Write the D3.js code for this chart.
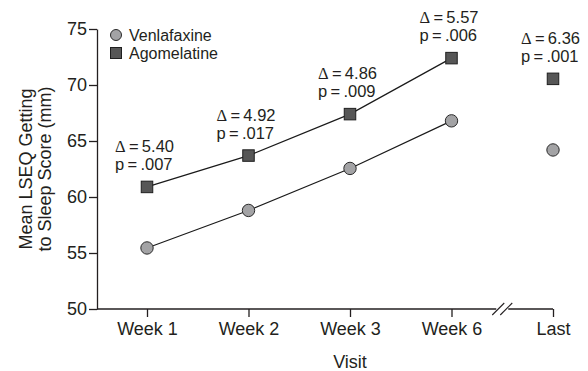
<!DOCTYPE html>
<html>
<head>
<meta charset="utf-8">
<script src="https://cdn.jsdelivr.net/npm/d3@7"></script>
<style>
  body { margin: 0; background: #fff; }
  svg { display: block; font-family: "Liberation Sans", Arial, Helvetica, sans-serif; }
</style>
</head>
<body>
<div id="chart"></div>
<script>
// data
const visits = ['Week 1', 'Week 2', 'Week 3', 'Week 6', 'Last'];
const venlafaxine = [55.45, 58.8, 62.55, 66.8, 64.2];
const agomelatine = [60.9, 63.7, 67.4, 72.4, 70.55];
const deltas = ['5.40', '4.92', '4.86', '5.57', '6.36'];
const pValues = ['.007', '.017', '.009', '.006', '.001'];
const yTicks = [50, 55, 60, 65, 70, 75];

const width = 588, height = 371;
const axisLeftX = 97;

const svg = d3.select('#chart').append('svg')
    .attr('width', width)
    .attr('height', height);

// scales
const x = d3.scalePoint()
    .domain(visits)
    .range([147, 553]);

const y = d3.scaleLinear()
    .domain([50, 75])
    .range([309, 29]);

const ink = '#231f20';

// y axis
const yAxis = svg.append('g')
    .attr('transform', `translate(${axisLeftX},0)`)
    .call(d3.axisLeft(y).tickValues(yTicks).tickSize(8).tickSizeOuter(0).tickPadding(2));
yAxis.select('.domain').attr('stroke', ink).attr('stroke-width', 1.3);
yAxis.selectAll('.tick line').attr('stroke', ink).attr('stroke-width', 1.3);
yAxis.selectAll('.tick text')
    .attr('font-size', 18)
    .attr('font-family', '"Liberation Sans", Arial, sans-serif')
    .attr('fill', ink);

// x axis (domain drawn by hand because of the break)
const xAxis = svg.append('g')
    .attr('transform', `translate(0,${y(50)})`)
    .call(d3.axisBottom(x).tickSize(8).tickSizeOuter(0).tickPadding(5));
xAxis.select('.domain').remove();
xAxis.selectAll('.tick line').attr('stroke', ink).attr('stroke-width', 1.3);
xAxis.selectAll('.tick text')
    .attr('font-size', 18)
    .attr('font-family', '"Liberation Sans", Arial, sans-serif')
    .attr('fill', ink);

const breakX = (x('Week 6') + x('Last')) / 2;
const y0 = y(50);
svg.append('line')
    .attr('x1', axisLeftX).attr('x2', breakX - 6)
    .attr('y1', y0).attr('y2', y0)
    .attr('stroke', ink).attr('stroke-width', 1.3);
svg.append('line')
    .attr('x1', breakX + 6).attr('x2', x('Last'))
    .attr('y1', y0).attr('y2', y0)
    .attr('stroke', ink).attr('stroke-width', 1.3);
[-4, 4].forEach(off => {
    svg.append('line')
        .attr('x1', breakX + off - 6).attr('y1', y0 + 6)
        .attr('x2', breakX + off + 6).attr('y2', y0 - 6)
        .attr('stroke', ink).attr('stroke-width', 1.1);
});

// axis titles
const midY = (y(50) + y(75)) / 2;
svg.append('text')
    .attr('transform', `translate(32,${midY}) rotate(-90)`)
    .attr('text-anchor', 'middle')
    .attr('font-size', 18)
    .attr('fill', ink)
    .text('Mean LSEQ Getting');
svg.append('text')
    .attr('transform', `translate(51,${midY}) rotate(-90)`)
    .attr('text-anchor', 'middle')
    .attr('font-size', 18)
    .attr('fill', ink)
    .text('to Sleep Score (mm)');
svg.append('text')
    .attr('x', x('Week 3'))
    .attr('y', 368)
    .attr('text-anchor', 'middle')
    .attr('font-size', 18)
    .attr('fill', ink)
    .text('Visit');

// connecting lines (Week 1 - Week 6 only)
const line = d3.line()
    .x(d => x(d.visit))
    .y(d => y(d.value));

function linked(values) {
    return visits.slice(0, 4).map((v, i) => ({ visit: v, value: values[i] }));
}

[venlafaxine, agomelatine].forEach(series => {
    svg.append('path')
        .datum(linked(series))
        .attr('d', line)
        .attr('fill', 'none')
        .attr('stroke', '#1a1a1a')
        .attr('stroke-width', 1.2);
});

// markers
const circleFill = '#a3a3a5';
const squareFill = '#565656';
const sq = 11.5;

svg.append('g').selectAll('circle')
    .data(venlafaxine)
    .join('circle')
    .attr('cx', (d, i) => x(visits[i]))
    .attr('cy', d => y(d))
    .attr('r', 6.2)
    .attr('fill', circleFill)
    .attr('stroke', '#2a2a2a')
    .attr('stroke-width', 1);

svg.append('g').selectAll('rect')
    .data(agomelatine)
    .join('rect')
    .attr('x', (d, i) => x(visits[i]) - sq / 2)
    .attr('y', d => y(d) - sq / 2)
    .attr('width', sq)
    .attr('height', sq)
    .attr('fill', squareFill)
    .attr('stroke', '#1f1f1f')
    .attr('stroke-width', 1);

// difference annotations
const notes = svg.append('g').attr('font-size', 16.5).attr('fill', ink);
agomelatine.forEach((v, i) => {
    const cx = x(visits[i]) - 32;
    const cy = y(v);
    const t1 = notes.append('text').attr('x', cx).attr('y', cy - 35);
    t1.append('tspan').attr('font-family', '"Liberation Serif", "DejaVu Serif", serif').text('\u0394');
    t1.append('tspan').text('\u2009=\u2009' + deltas[i]);
    notes.append('text')
        .attr('x', cx)
        .attr('y', cy - 17)
        .text('p\u2009=\u2009' + pValues[i]);
});

// legend
const legend = svg.append('g').attr('font-size', 16).attr('fill', ink);
legend.append('circle')
    .attr('cx', 116).attr('cy', 35).attr('r', 5.5)
    .attr('fill', circleFill).attr('stroke', '#2a2a2a').attr('stroke-width', 1);
legend.append('text').attr('x', 129).attr('y', 40.5).text('Venlafaxine');
legend.append('rect')
    .attr('x', 110.5).attr('y', 47.5).attr('width', 11).attr('height', 11)
    .attr('fill', squareFill).attr('stroke', '#1f1f1f').attr('stroke-width', 1);
legend.append('text').attr('x', 129).attr('y', 59).text('Agomelatine');
</script>
</body>
</html>
